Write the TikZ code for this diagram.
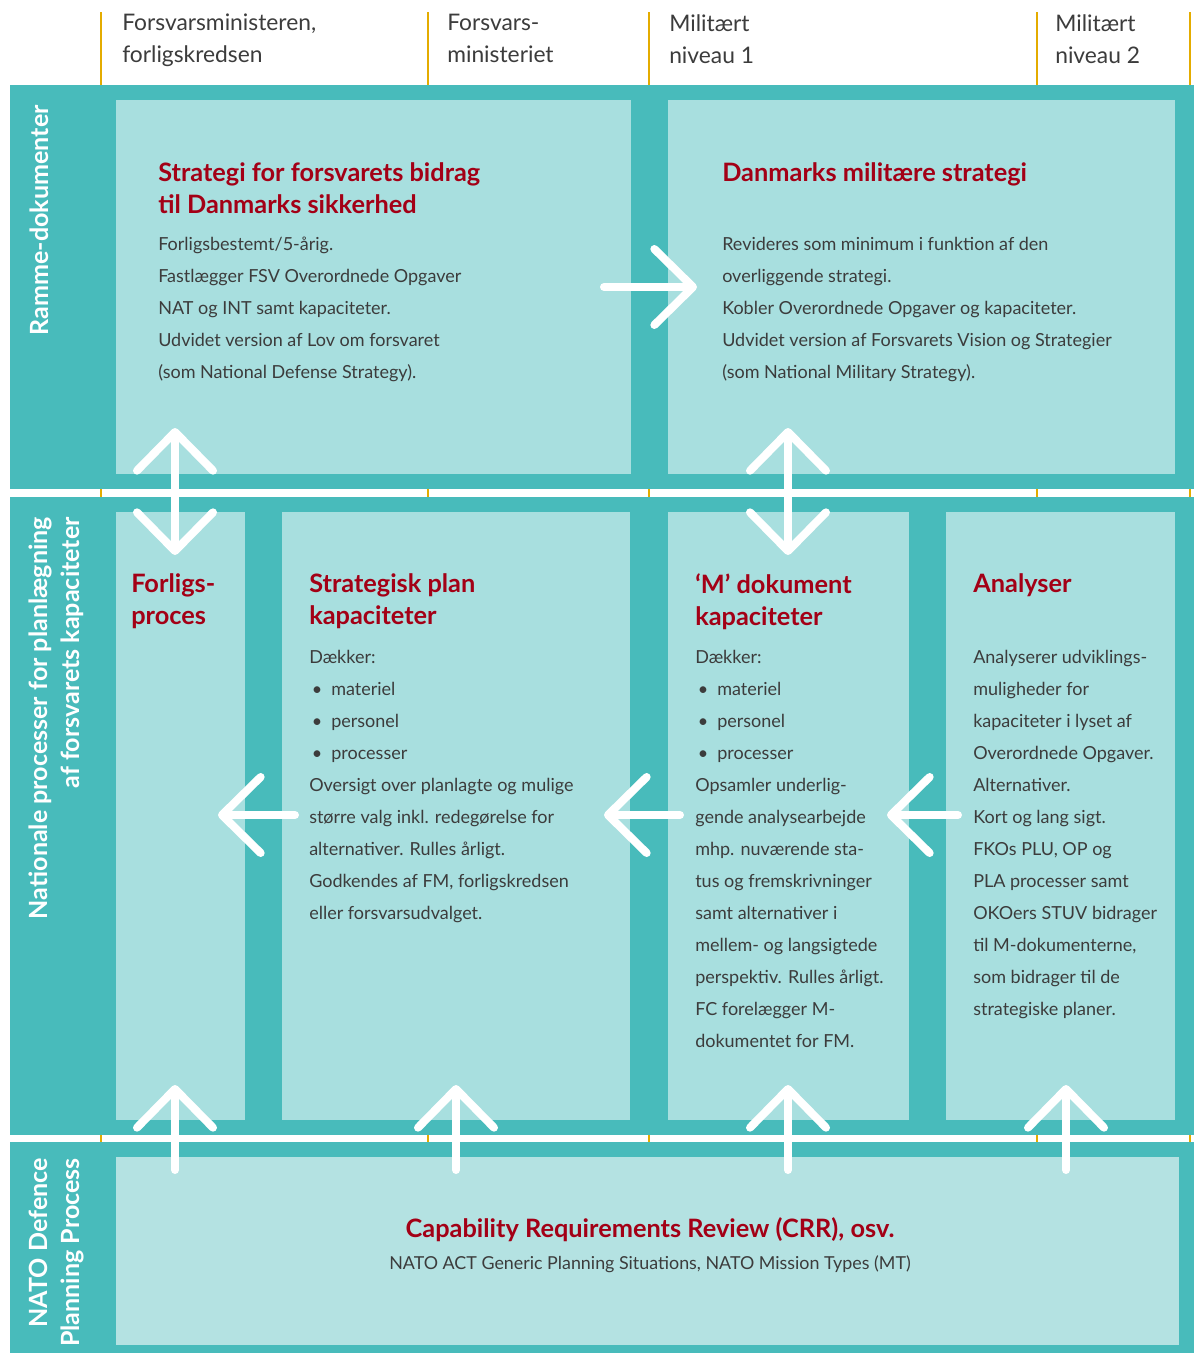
\documentclass[tikz,border=0pt]{standalone}
\usepackage{fontspec}
\setmainfont{Lato}
\usetikzlibrary{positioning, arrows.meta}
\definecolor{bandteal}{RGB}{72, 187, 187}
\definecolor{boxlight}{RGB}{168, 223, 223}
\definecolor{natolight}{RGB}{180, 226, 226}
\definecolor{titlered}{RGB}{163, 0, 22}
\definecolor{textgrey}{RGB}{60, 60, 60}
\definecolor{tickyellow}{RGB}{228, 172, 0}
\newcommand{\blt}{\hspace*{2pt}\makebox[14.5pt][l]{\textbullet}}

\begin{document}
\begin{tikzpicture}[
    x=0.75pt, y=-0.75pt,
    % Area Styles
    band/.style={fill=bandteal, draw=none, anchor=north west, inner sep=0pt, minimum width=888pt},
    docbox/.style={fill=boxlight, draw=none, anchor=north west, inner sep=0pt},
    natobox/.style={fill=natolight, draw=none, anchor=north west, inner sep=0pt},
    tick/.style={draw=tickyellow, line width=2.2pt},
    % Text Styles
    headtext/.style={anchor=north west, inner sep=0pt, align=left, text=textgrey, font=\fontsize{17.1}{24}\selectfont},
    boxtitle/.style={anchor=north west, inner sep=0pt, align=left, text=titlered, font=\fontsize{19}{24}\selectfont\bfseries},
    boxbody/.style={anchor=north west, inner sep=0pt, align=left, text=textgrey, font=\fontsize{13.5}{24}\selectfont},
    sidelabel/.style={rotate=90, inner sep=0pt, align=right, text=white, font=\fontsize{18.8}{24}\selectfont\bfseries},
    % Arrow Styles
    flow/.style={draw=white, line width=6pt, line cap=round, -{Straight Barb[round, length=29pt, width=57pt]}},
    flowboth/.style={flow, {Straight Barb[round, length=29pt, width=57pt]}-{Straight Barb[round, length=29pt, width=57pt]}}
]
\useasboundingbox (0,0) rectangle (1194,1353);
\fill[white] (0,0) rectangle (1194,1353);

% Column markers (visible above the bands and in the gaps)
\foreach \x in {101,428,649,1037,1190} {
    \draw[tick] (\x,12) -- (\x,1142);
}

% Column headings
\node[headtext] (head-fm) at (122,14) {Forsvarsministeren,\\forligskredsen};
\node[headtext] (head-fmn) at (447,14) {Forsvars-\\ministeriet};
\node[headtext] (head-mil1) at (669,14) {Militært\\niveau 1};
\node[headtext] (head-mil2) at (1055,14) {Militært\\niveau 2};

% Bands
\node[band, minimum height=303pt] (band-ramme) at (10,85) {};
\node[band, minimum height=478.5pt] (band-nat) at (10,497) {};
\node[band, minimum height=158.25pt] (band-nato) at (10,1142) {};

% Side labels
\node[sidelabel, anchor=base east] (lbl-ramme) at (48,105) {Ramme-dokumenter};
\node[sidelabel, anchor=north east] (lbl-nat) at (29,517) {Nationale processer for planlægning\\af forsvarets kapaciteter};
\node[sidelabel, anchor=north east] (lbl-nato) at (29,1158) {NATO Defence\\Planning Process};

% Ramme-dokumenter
\node[docbox, minimum width=386.25pt, minimum height=280.5pt] (strat) at (116,100) {};
\node[docbox, minimum width=380.25pt, minimum height=280.5pt] (milstrat) at (668,100) {};

\node[boxtitle] (strat-title) at (158,162) {Strategi for forsvarets bidrag\\til Danmarks sikkerhed};
\node[boxbody] (strat-body) at (158,237) {Forligsbestemt/5-årig.\\Fastlægger FSV Overordnede Opgaver\\NAT og INT samt kapaciteter.\\Udvidet version af Lov om forsvaret\\(som National Defense Strategy).};

\node[boxtitle] (milstrat-title) at (722,162) {Danmarks militære strategi};
\node[boxbody] (milstrat-body) at (722,237) {Revideres som minimum i funktion af den\\overliggende strategi.\\Kobler Overordnede Opgaver og kapaciteter.\\Udvidet version af Forsvarets Vision og Strategier\\(som National Military Strategy).};

% Nationale processer
\node[docbox, minimum width=96.75pt, minimum height=456pt] (forlig) at (116,512) {};
\node[docbox, minimum width=261pt, minimum height=456pt] (splan) at (282,512) {};
\node[docbox, minimum width=180.75pt, minimum height=456pt] (mdok) at (668,512) {};
\node[docbox, minimum width=171.75pt, minimum height=456pt] (analyse) at (946,512) {};

\node[boxtitle] (forlig-title) at (131,573) {Forligs-\\proces};

\node[boxtitle] (splan-title) at (309,573) {Strategisk plan\\kapaciteter};
\node[boxbody] (splan-body) at (309,650) {Dækker:\\\blt materiel\\\blt personel\\\blt processer\\Oversigt over planlagte og mulige\\større valg inkl. redegørelse for\\alternativer. Rulles årligt.\\Godkendes af FM, forligskredsen\\eller forsvarsudvalget.};

\node[boxtitle] (mdok-title) at (695,573) {‘M’ dokument\\kapaciteter};
\node[boxbody] (mdok-body) at (695,650) {Dækker:\\\blt materiel\\\blt personel\\\blt processer\\Opsamler underlig-\\gende analysearbejde\\mhp. nuværende sta-\\tus og fremskrivninger\\samt alternativer i\\mellem- og langsigtede\\perspektiv. Rulles årligt.\\FC forelægger M-\\dokumentet for FM.};

\node[boxtitle] (analyse-title) at (973,573) {Analyser};
\node[boxbody] (analyse-body) at (973,650) {Analyserer udviklings-\\muligheder for\\kapaciteter i lyset af\\Overordnede Opgaver.\\Alternativer.\\Kort og lang sigt.\\FKOs PLU, OP og\\PLA processer samt\\OKOers STUV bidrager\\til M-dokumenterne,\\som bidrager til de\\strategiske planer.};

% NATO
\node[natobox, minimum width=797.25pt, minimum height=141pt] (crr) at (116,1157) {};
\node[anchor=base, inner sep=0pt, text=titlered, font=\fontsize{19}{24}\selectfont\bfseries] (crr-title) at (650,1237) {Capability Requirements Review (CRR), osv.};
\node[anchor=base, inner sep=0pt, text=textgrey, font=\fontsize{13.4}{24}\selectfont] (crr-body) at (650,1269) {NATO ACT Generic Planning Situations, NATO Mission Types (MT)};

% Arrow end points
\coordinate (strat-out) at (604,287);
\coordinate (milstrat-in) at (697,287);
\coordinate (strat-low) at (175,428);
\coordinate (forlig-up) at (175,555);
\coordinate (milstrat-low) at (788,428);
\coordinate (mdok-up) at (788,555);
\coordinate (splan-out) at (295,815);
\coordinate (forlig-in) at (218,815);
\coordinate (mdok-out) at (680,815);
\coordinate (splan-in) at (604,815);
\coordinate (analyse-out) at (958,815);
\coordinate (mdok-in) at (887,815);

% Arrows
\draw[flow] (strat-out) -- (milstrat-in);
\draw[flowboth] (strat-low) -- (forlig-up);
\draw[flowboth] (milstrat-low) -- (mdok-up);
\draw[flow] (splan-out) -- (forlig-in);
\draw[flow] (mdok-out) -- (splan-in);
\draw[flow] (analyse-out) -- (mdok-in);
\foreach \x/\n in {175/forlig, 456/splan, 788/mdok, 1066/analyse} {
    \coordinate (nato-\n) at (\x,1170);
    \coordinate (tip-\n) at (\x,1085);
    \draw[flow] (nato-\n) -- (tip-\n);
}

\end{tikzpicture}
\end{document}
